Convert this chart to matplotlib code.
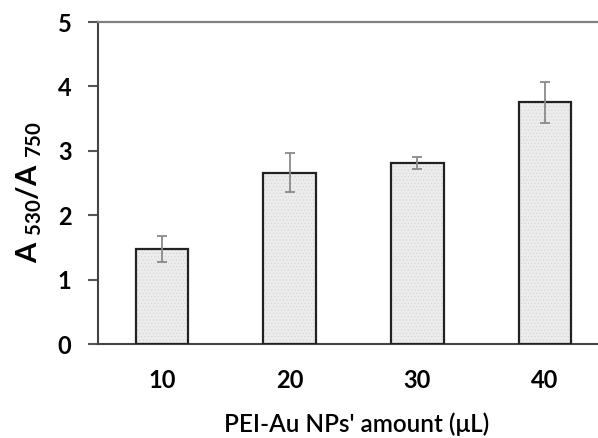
import matplotlib
matplotlib.use("Agg")
import matplotlib.pyplot as plt

categories = ["10", "20", "30", "40"]
values = [1.48, 2.66, 2.81, 3.75]
errors = [0.20, 0.30, 0.10, 0.32]
yticks = [0, 1, 2, 3, 4, 5]

plt.rcParams['font.family'] = ['Lato', 'DejaVu Sans']
plt.rcParams['mathtext.fontset'] = 'custom'
plt.rcParams['mathtext.rm'] = 'Lato:bold'
plt.rcParams['mathtext.bf'] = 'Lato:bold'
plt.rcParams['mathtext.it'] = 'Lato:bold'
plt.rcParams['hatch.linewidth'] = 0.4

W, H = 598, 438
fig = plt.figure(figsize=(W/100, H/100), dpi=100)
ax = fig.add_axes([98/W, (H-344)/H, (609-98)/W, 322/H])

x = list(range(len(categories)))
ax.bar(x, values, width=0.41, color='#ececec', edgecolor='#d2d2d2', linewidth=0, hatch='.....', zorder=2)
ax.bar(x, values, width=0.41, color='none', edgecolor='#222222', linewidth=1.6, zorder=3)
ax.errorbar(x, values, yerr=errors, fmt='none', ecolor='#8a8a8a', elinewidth=1.3, capsize=3.5, capthick=1.3, zorder=4)

ax.set_xlim(-0.5, 3.5)
ax.set_ylim(0, 5)
ax.set_yticks(yticks)
ax.set_yticklabels([str(t) for t in yticks], fontsize=17, fontweight='bold')
ax.set_xticks(x)
ax.set_xticklabels(categories, fontsize=17, fontweight='bold')
ax.tick_params(axis='x', length=0, pad=18)
ax.tick_params(axis='y', length=7, width=1.5, color='#555555', pad=12)

ax.spines['right'].set_visible(False)
ax.spines['top'].set_color('#808080')
ax.spines['top'].set_linewidth(1.6)
ax.spines['left'].set_color('#444444')
ax.spines['left'].set_linewidth(1.5)
ax.spines['bottom'].set_color('#444444')
ax.spines['bottom'].set_linewidth(1.5)

fig.text(357/W, 1-424/H, "PEI-Au NPs' amount (\u03bcL)", ha='center', va='center',
         fontsize=17.5, fontweight='semibold')
fig.text(29/W, 1-192/H, r"A $_{\mathbf{530}}$/A $_{\mathbf{750}}$", ha='center', va='center',
         rotation=90, fontsize=21, fontweight='bold')

fig.savefig("out.png", dpi=100)
